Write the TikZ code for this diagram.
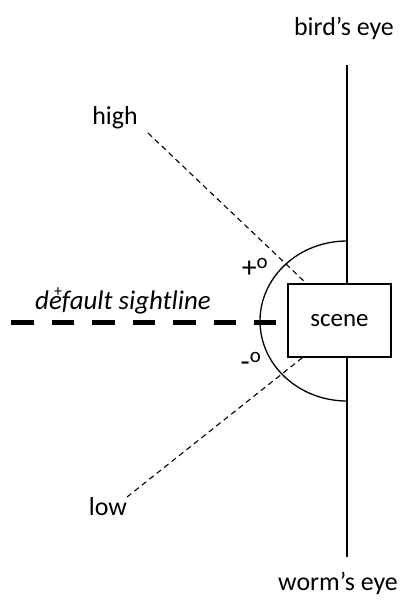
\documentclass[tikz,border=0pt]{standalone}
\usepackage{fontspec}
\setmainfont{Carlito}
\begin{document}
\begin{tikzpicture}[x=1bp,y=-1bp,
  lbl/.style={inner sep=0pt,font=\fontsize{26}{30}\selectfont},
  signlbl/.style={inner sep=0pt,font=\fontsize{30}{32}\selectfont},
  thin dash/.style={line width=1.1bp,dash pattern=on 5.5bp off 4bp},
  thick dash/.style={line width=5bp,dash pattern=on 22.5bp off 18bp},
  solid line/.style={line width=1.3bp},
  scenebox/.style={draw,line width=1.6bp,fill=white,minimum width=103bp,minimum height=73bp,inner sep=0pt,font=\fontsize{25}{30}\selectfont}]
\useasboundingbox (0,0) rectangle (409,600);
% vertical axis
\coordinate (vtop) at (347,65);
\coordinate (vbot) at (347,557);
\draw[solid line] (vtop) -- (vbot);
% arc
\coordinate (atop) at (347,241);
\draw[solid line] (atop) arc[start angle=90,end angle=270,x radius=87bp,y radius=80bp];
% labels
\node[lbl] (bird) at (344,28) {bird’s eye};
\node[lbl] (worm) at (338,583) {worm’s eye};
\node[lbl] (high) at (115,118) {high};
\node[lbl] (low) at (108,507) {low};
\node[lbl,font=\fontsize{27}{30}\selectfont\itshape] (default) at (123,302) {default sightline};
\node[inner sep=0pt,font=\fontsize{16}{18}\selectfont] (plusmark) at (58,292) {+};
\node[signlbl] (plus) at (255,268) {+\textsuperscript{o}};
\node[signlbl] (minus) at (251,362) {-\textsuperscript{o}};
% sight lines
\coordinate (hs) at (148,133);
\coordinate (he) at (307,284);
\coordinate (ls) at (127,497);
\coordinate (le) at (302,358);
\draw[thin dash] (hs) -- (he);
\draw[thin dash] (ls) -- (le);
\coordinate (ds) at (11,322);
\coordinate (de) at (276,322);
\draw[thick dash] (ds) -- (de);
% scene
\node[scenebox] (scene) at (339.5,320.5) {scene};
\end{tikzpicture}
\end{document}
